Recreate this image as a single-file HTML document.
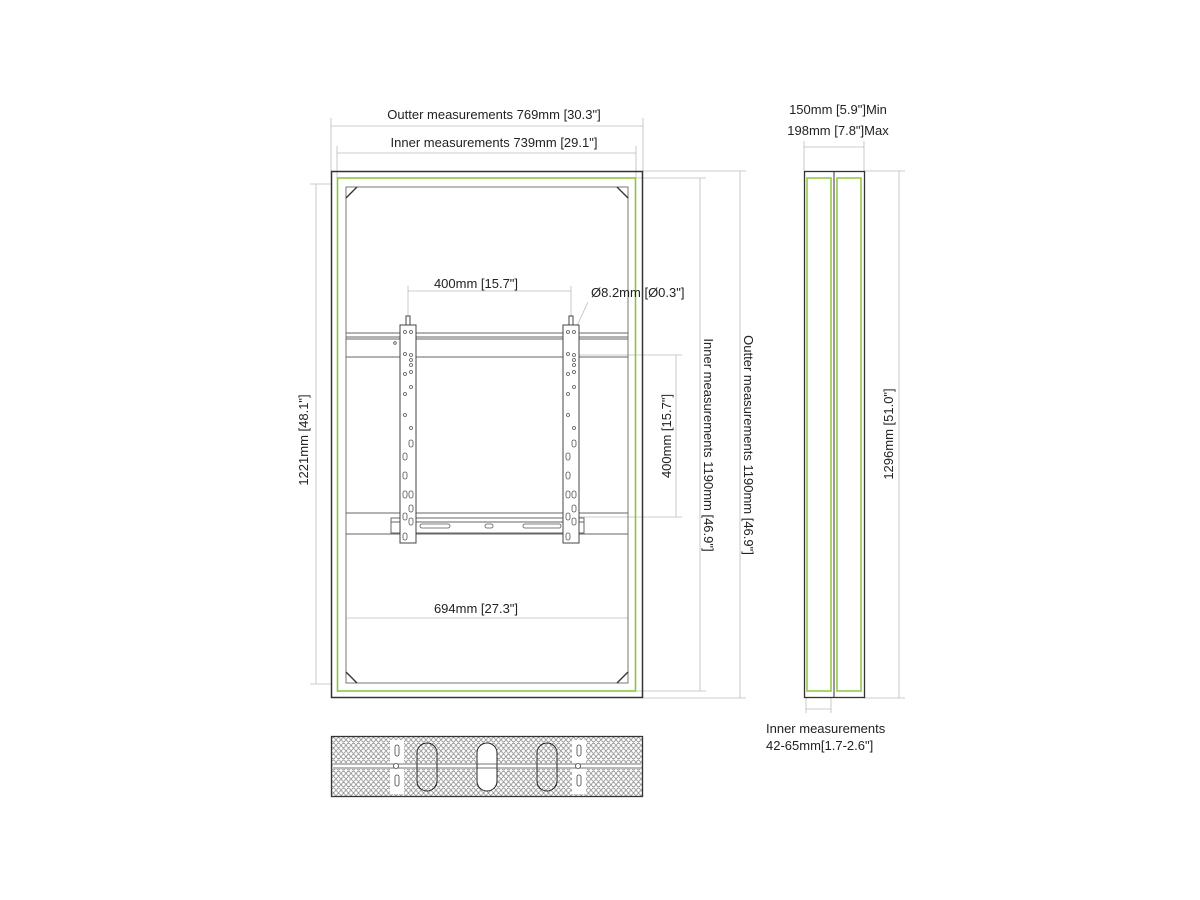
<!DOCTYPE html>
<html><head><meta charset="utf-8"><style>
html,body{margin:0;padding:0;background:#fff;width:1200px;height:900px;overflow:hidden}
svg{display:block}
text{font-family:"Liberation Sans",sans-serif;font-size:13px;fill:#222}
</style></head><body>
<svg width="1200" height="900" viewBox="0 0 1200 900" xmlns="http://www.w3.org/2000/svg">
<defs>
<pattern id="holes" x="331" y="737" width="5" height="5.6" patternUnits="userSpaceOnUse">
<ellipse cx="2.5" cy="2.8" rx="1.8" ry="2.2" fill="none" stroke="#666" stroke-width="0.7"/>
</pattern>
</defs>
<g stroke="#bbb" stroke-width="0.8" fill="none">
<line x1="331" y1="118" x2="331" y2="171"/><line x1="643" y1="118" x2="643" y2="171"/>
<line x1="331" y1="126" x2="643" y2="126"/>
<line x1="337" y1="146" x2="337" y2="178"/><line x1="636" y1="146" x2="636" y2="178"/>
<line x1="337" y1="153" x2="636" y2="153"/>
<line x1="310" y1="184" x2="331" y2="184"/><line x1="310" y1="684" x2="331" y2="684"/>
<line x1="316" y1="184" x2="316" y2="684"/>
<line x1="636" y1="178" x2="706" y2="178"/><line x1="636" y1="691" x2="706" y2="691"/>
<line x1="700" y1="178" x2="700" y2="691"/>
<line x1="643" y1="171" x2="746" y2="171"/><line x1="643" y1="698" x2="746" y2="698"/>
<line x1="740" y1="171" x2="740" y2="698"/>
<line x1="579" y1="355" x2="682" y2="355"/><line x1="579" y1="517" x2="682" y2="517"/>
<line x1="676" y1="355" x2="676" y2="517"/>
<line x1="408" y1="286" x2="408" y2="320"/><line x1="571" y1="286" x2="571" y2="320"/>
<line x1="408" y1="291" x2="571" y2="291"/>
<line x1="347" y1="618" x2="628" y2="618"/>
<line x1="588" y1="302" x2="568" y2="345"/>
<line x1="804" y1="141" x2="804" y2="171"/><line x1="864" y1="141" x2="864" y2="171"/>
<line x1="804" y1="147" x2="864" y2="147"/>
<line x1="864" y1="171" x2="905" y2="171"/><line x1="864" y1="698" x2="905" y2="698"/>
<line x1="899" y1="171" x2="899" y2="698"/>
<line x1="806" y1="698" x2="806" y2="713"/><line x1="831" y1="698" x2="831" y2="713"/>
<line x1="806" y1="709" x2="831" y2="709"/>
</g>
<rect x="331.5" y="171.5" width="311" height="526" fill="none" stroke="#333" stroke-width="1.5"/>
<rect x="337.5" y="178" width="298" height="513" fill="none" stroke="#8cc63f" stroke-width="1.6"/>
<rect x="346" y="187" width="282" height="496" fill="none" stroke="#777" stroke-width="1"/>
<g stroke="#333" stroke-width="1.3">
<line x1="346" y1="198" x2="357" y2="187"/><line x1="617" y1="187" x2="628" y2="198"/>
<line x1="346" y1="672" x2="357" y2="683"/><line x1="628" y1="672" x2="617" y2="683"/>
</g>
<g stroke="#666" stroke-width="1" fill="none">
<line x1="346" y1="333" x2="628" y2="333"/><line x1="346" y1="337" x2="628" y2="337"/>
<line x1="346" y1="339" x2="628" y2="339"/><line x1="346" y1="357" x2="628" y2="357"/>
<line x1="346" y1="513" x2="628" y2="513"/><line x1="346" y1="534" x2="628" y2="534"/>
<rect x="391" y="518" width="193" height="15" fill="#fff"/>
<line x1="391" y1="522" x2="584" y2="522"/>
</g>
<g fill="none" stroke="#555" stroke-width="0.8">
<rect x="420" y="524" width="30" height="4" rx="2"/><rect x="485" y="524" width="8" height="4" rx="2"/><rect x="523" y="524" width="38" height="4" rx="2"/>
</g>
<g fill="#fff" stroke="#444" stroke-width="1">
<rect x="400" y="325" width="16" height="218"/>
<rect x="563" y="325" width="16" height="218"/>
<rect x="406" y="316" width="4" height="9"/><rect x="569" y="316" width="4" height="9"/>
</g>
<g fill="none" stroke="#555" stroke-width="0.8">
<circle cx="405" cy="332" r="1.5"/><circle cx="411" cy="332" r="1.5"/>
<circle cx="405" cy="354" r="1.5"/><circle cx="411" cy="355" r="1.5"/><circle cx="411" cy="360" r="1.5"/><circle cx="411" cy="365" r="1.5"/><circle cx="405" cy="374" r="1.5"/><circle cx="411" cy="372" r="1.5"/><circle cx="411" cy="387" r="1.5"/><circle cx="405" cy="394" r="1.5"/><circle cx="405" cy="415" r="1.5"/><circle cx="411" cy="428" r="1.5"/>
<rect x="409" y="440" width="4" height="7" rx="2"/><rect x="403" y="453" width="4" height="7" rx="2"/><rect x="403" y="472" width="4" height="7" rx="2"/><rect x="403" y="491" width="4" height="7" rx="2"/><rect x="409" y="491" width="4" height="7" rx="2"/><rect x="409" y="505" width="4" height="7" rx="2"/><rect x="403" y="513" width="4" height="7" rx="2"/><rect x="409" y="518" width="4" height="7" rx="2"/><rect x="403" y="533" width="4" height="7" rx="2"/>
<circle cx="568" cy="332" r="1.5"/><circle cx="574" cy="332" r="1.5"/>
<circle cx="568" cy="354" r="1.5"/><circle cx="574" cy="355" r="1.5"/><circle cx="574" cy="360" r="1.5"/><circle cx="574" cy="365" r="1.5"/><circle cx="568" cy="374" r="1.5"/><circle cx="574" cy="372" r="1.5"/><circle cx="574" cy="387" r="1.5"/><circle cx="568" cy="394" r="1.5"/><circle cx="568" cy="415" r="1.5"/><circle cx="574" cy="428" r="1.5"/>
<rect x="572" y="440" width="4" height="7" rx="2"/><rect x="566" y="453" width="4" height="7" rx="2"/><rect x="566" y="472" width="4" height="7" rx="2"/><rect x="566" y="491" width="4" height="7" rx="2"/><rect x="572" y="491" width="4" height="7" rx="2"/><rect x="572" y="505" width="4" height="7" rx="2"/><rect x="566" y="513" width="4" height="7" rx="2"/><rect x="572" y="518" width="4" height="7" rx="2"/><rect x="566" y="533" width="4" height="7" rx="2"/>
<circle cx="395" cy="343" r="1.3"/>
</g>
<rect x="804.5" y="171.5" width="60" height="526" fill="none" stroke="#333" stroke-width="1.3"/>
<line x1="834" y1="171" x2="834" y2="698" stroke="#333" stroke-width="1"/>
<rect x="807" y="178" width="24" height="513" fill="none" stroke="#8cc63f" stroke-width="1.5"/>
<rect x="837" y="178" width="24" height="513" fill="none" stroke="#8cc63f" stroke-width="1.5"/>
<rect x="331.5" y="736.5" width="311" height="60" fill="url(#holes)" stroke="#333" stroke-width="1.3"/>
<g fill="#fff" stroke="none">
<rect x="390" y="740" width="14" height="54"/><rect x="572" y="740" width="14" height="54"/>
<rect x="333" y="763" width="308" height="6"/>
</g>
<g fill="#fff" stroke="#222" stroke-width="1">
<rect x="417" y="743" width="20" height="48" rx="10" fill="none"/>
<rect x="477" y="743" width="20" height="48" rx="10"/>
<rect x="537" y="743" width="20" height="48" rx="10" fill="none"/>
</g>
<g fill="none" stroke="#444" stroke-width="0.8">
<line x1="333" y1="764" x2="641" y2="764"/><line x1="333" y1="768" x2="641" y2="768"/>
<rect x="395" y="745" width="4" height="11" rx="2"/><rect x="395" y="775" width="4" height="11" rx="2"/>
<rect x="577" y="745" width="4" height="11" rx="2"/><rect x="577" y="775" width="4" height="11" rx="2"/>
<circle cx="396" cy="766" r="2.5" fill="#fff"/><circle cx="578" cy="766" r="2.5" fill="#fff"/>
</g>
<text x="494" y="119" text-anchor="middle">Outter measurements 769mm [30.3"]</text>
<text x="494" y="147" text-anchor="middle">Inner measurements 739mm [29.1"]</text>
<text x="476" y="288" text-anchor="middle">400mm [15.7"]</text>
<text x="591" y="297">Ø8.2mm [Ø0.3"]</text>
<text x="476" y="613" text-anchor="middle">694mm [27.3"]</text>
<text transform="translate(308,440) rotate(-90)" text-anchor="middle">1221mm [48.1"]</text>
<text transform="translate(671,436) rotate(-90)" text-anchor="middle">400mm [15.7"]</text>
<text transform="translate(704,445) rotate(90)" text-anchor="middle">Inner measurements 1190mm [46.9"]</text>
<text transform="translate(744,445) rotate(90)" text-anchor="middle">Outter measurements 1190mm [46.9"]</text>
<text transform="translate(893,434) rotate(-90)" text-anchor="middle">1296mm [51.0"]</text>
<text x="838" y="114" text-anchor="middle">150mm [5.9"]Min</text>
<text x="838" y="135" text-anchor="middle">198mm [7.8"]Max</text>
<text x="766" y="733">Inner measurements</text>
<text x="766" y="750">42-65mm[1.7-2.6"]</text>
</svg>
</body></html>
